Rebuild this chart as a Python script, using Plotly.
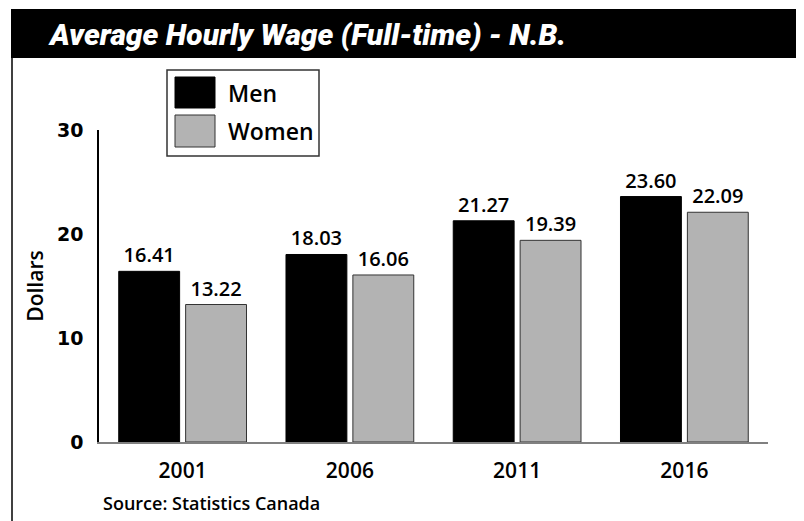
import plotly.graph_objects as go

years = ["2001", "2006", "2011", "2016"]
men = [16.41, 18.03, 21.27, 23.60]
women = [13.22, 16.06, 19.39, 22.09]
y_ticks = [0, 10, 20, 30]

# the page body has an 8px margin: the figure starts at screen (8, 8)
OFF = 8
W, H = 804 - OFF, 521 - OFF
L, R = 99 - OFF, 804 - 768
T, B = 130 - OFF, 521 - 442
pw, ph = W - L - R, H - T - B

def px(x):
    return (x - OFF - L) / pw

def py(y):
    return (H - B - (y - OFF)) / ph

label_font = dict(family="Open Sans", size=20, color="black", weight=600)

fig = go.Figure()
fig.add_trace(go.Bar(
    x=years, y=men, name="Men",
    marker=dict(color="black", line=dict(color="black", width=1)),
    text=[f"{v:.2f}" for v in men], textposition="outside",
    textfont=label_font, cliponaxis=False,
))
fig.add_trace(go.Bar(
    x=years, y=women, name="Women",
    marker=dict(color="#b3b3b3", line=dict(color="#333333", width=1)),
    text=[f"{v:.2f}" for v in women], textposition="outside",
    textfont=label_font, cliponaxis=False,
))

shapes = [
    # black title bar
    dict(type="rect", xref="paper", yref="paper", x0=px(11), x1=px(806), y0=py(58), y1=py(9),
         fillcolor="black", line=dict(width=0)),
    # left vertical frame line
    dict(type="line", xref="paper", yref="paper", x0=px(12), x1=px(12), y0=py(58), y1=py(525),
         line=dict(color="black", width=1.5)),
    # legend box
    dict(type="rect", xref="paper", yref="paper", x0=px(167), x1=px(319), y0=py(156), y1=py(70),
         fillcolor="white", line=dict(color="#333333", width=1.5)),
    dict(type="rect", xref="paper", yref="paper", x0=px(175), x1=px(215), y0=py(108), y1=py(77),
         fillcolor="black", line=dict(color="black", width=1)),
    dict(type="rect", xref="paper", yref="paper", x0=px(175), x1=px(215), y0=py(147), y1=py(115),
         fillcolor="#b3b3b3", line=dict(color="#333333", width=1)),
]

annotations = [
    dict(text="Average Hourly Wage (Full-time) - N.B.", xref="paper", yref="paper",
         x=px(46), y=py(35), xanchor="left", yanchor="middle", showarrow=False,
         font=dict(family="Roboto", size=30, color="white", weight=900, style="italic")),
    dict(text="Men", xref="paper", yref="paper", x=px(226), y=py(93), xanchor="left",
         yanchor="middle", showarrow=False,
         font=dict(family="Open Sans", size=23, color="black", weight=600)),
    dict(text="Women", xref="paper", yref="paper", x=px(226), y=py(131), xanchor="left",
         yanchor="middle", showarrow=False,
         font=dict(family="Open Sans", size=23, color="black", weight=600)),
    dict(text="Source: Statistics Canada", xref="paper", yref="paper", x=px(101), y=py(503),
         xanchor="left", yanchor="middle", showarrow=False,
         font=dict(family="Open Sans", size=18, color="black", weight=600)),
]

fig.update_layout(
    width=W, height=H,
    margin=dict(l=L, r=R, t=T, b=B, autoexpand=False),
    paper_bgcolor="white", plot_bgcolor="white",
    showlegend=False,
    barmode="group", bargap=0.2, bargroupgap=0.09,
    shapes=shapes, annotations=annotations,
    xaxis=dict(
        showline=True, linecolor="#808080", linewidth=2,
        showgrid=False, ticks="", ticklabelstandoff=9,
        tickfont=dict(family="Open Sans", size=21, color="black", weight=600),
    ),
    yaxis=dict(
        range=[0, 30], tickvals=y_ticks, ticktext=[str(v) for v in y_ticks],
        showline=True, linecolor="black", linewidth=1.5,
        showgrid=False, zeroline=False, ticks="", ticklabelstandoff=10,
        tickfont=dict(family="DejaVu Sans", size=19, color="black", weight="bold"),
        title=dict(text="Dollars", standoff=8,
                   font=dict(family="Open Sans", size=21, color="black", weight=600)),
    ),
)

fig.write_html("out.html")
